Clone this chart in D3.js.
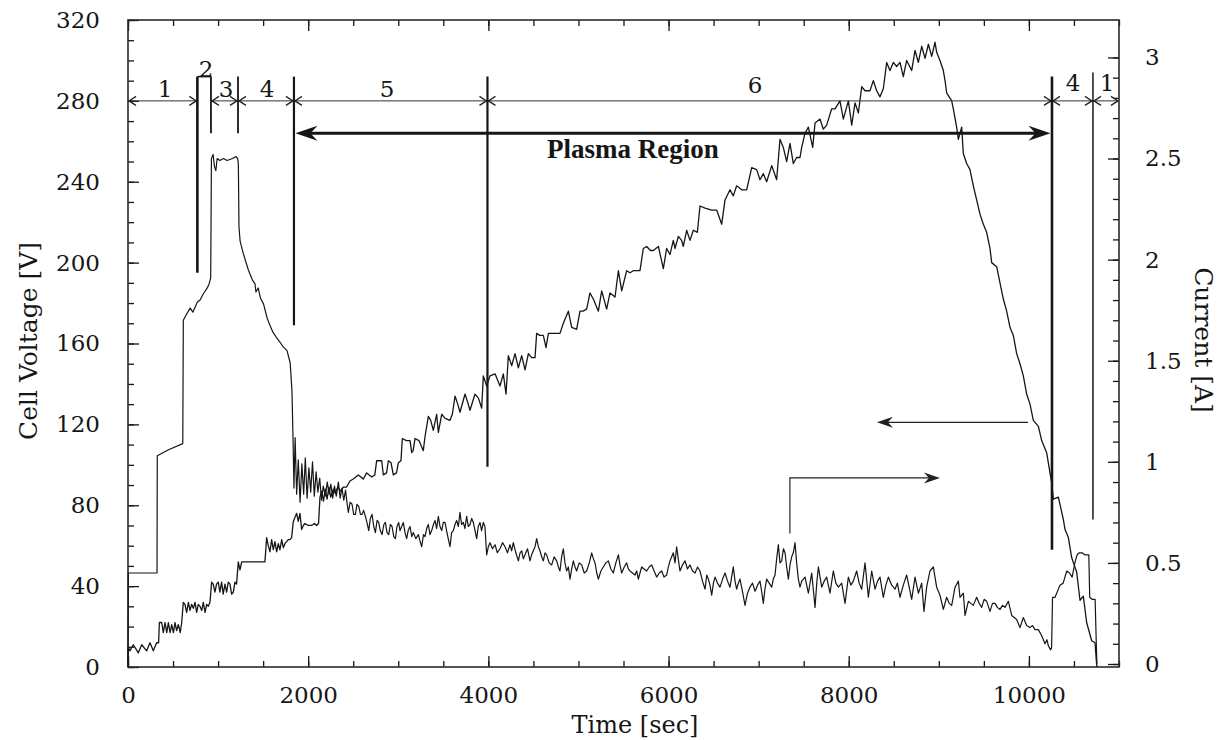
<!DOCTYPE html>
<html><head><meta charset="utf-8">
<script src="https://cdn.jsdelivr.net/npm/d3@7/dist/d3.min.js"></script>
<style>
body{margin:0;background:#fff;}
</style></head><body>
<svg id="chart" width="1221" height="740"></svg>
<script>
// ---------------- DATA ----------------
// Cell voltage [V] vs time [s]
const voltage = [[0,0],[2,10],[20,8],[59,11],[115,7],[152,11],[207,8],[244,12],[281,8],[318,12],[340,12],[348,22],[374,22],[392,17],[411,22],[430,17],[448,22],[467,17],[485,21],[504,17],[522,22],[540,18],[559,21],[580,17],[596,22],[614,32],[632,31],[651,27],[670,32],[688,28],[706,31],[725,29],[744,32],[762,27],[780,31],[799,30],[818,28],[836,32],[855,27],[873,31],[891,30],[910,32],[928,42],[946,41],[965,37],[983,41],[1002,42],[1020,37],[1039,42],[1057,36],[1076,41],[1095,37],[1113,42],[1132,41],[1150,36],[1169,37],[1187,42],[1205,41],[1224,52],[1243,48],[1262,52],[1280,52],[1400,52],[1520,52],[1539,64],[1557,60],[1576,57],[1594,63],[1613,58],[1631,62],[1650,57],[1668,61],[1687,58],[1706,63],[1724,59],[1742,61],[1761,62],[1779,63],[1797,63],[1816,64],[1835,72],[1853,74],[1872,76],[1890,72],[1909,76],[1927,68],[1946,70],[1964,71],[2000,70],[2038,70],[2070,71],[2094,70],[2115,71],[2131,84],[2150,87],[2170,82],[2190,88],[2210,83],[2230,89],[2250,84],[2279,88],[2300,86],[2330,89],[2360,87],[2390,89],[2427,89],[2464,92],[2500,93],[2557,95],[2612,93],[2649,96],[2705,94],[2740,95],[2760,102],[2790,102],[2816,102],[2834,95],[2870,96],[2890,102],[2920,101],[2945,95],[2980,96],[3001,101],[3030,102],[3045,113],[3090,112],[3131,112],[3149,106],[3165,107],[3186,113],[3230,112],[3278,107],[3297,114],[3334,124],[3360,122],[3389,117],[3426,125],[3445,116],[3482,125],[3520,123],[3574,122],[3600,125],[3630,134],[3660,130],[3685,126],[3741,135],[3770,131],[3796,127],[3852,135],[3890,133],[3926,128],[3944,144],[3981,139],[4018,144],[4074,145],[4129,139],[4166,145],[4196,135],[4222,154],[4259,149],[4296,155],[4333,148],[4370,154],[4407,147],[4444,155],[4480,153],[4518,153],[4536,165],[4570,164],[4610,164],[4640,158],[4666,165],[4730,165],[4795,165],[4832,170],[4888,176],[4925,168],[4980,167],[5017,176],[5050,176],[5091,177],[5128,185],[5165,182],[5221,176],[5258,186],[5313,177],[5350,185],[5406,183],[5443,196],[5480,186],[5535,196],[5572,195],[5609,196],[5683,196],[5720,207],[5757,208],[5800,206],[5831,206],[5887,208],[5942,197],[5979,207],[6016,204],[6053,211],[6072,207],[6109,213],[6145,211],[6164,208],[6201,216],[6238,211],[6275,216],[6320,215],[6349,228],[6405,227],[6479,226],[6534,226],[6590,219],[6627,231],[6682,236],[6719,233],[6756,238],[6812,236],[6867,236],[6923,247],[6978,246],[7015,241],[7052,244],[7089,240],[7145,248],[7200,241],[7237,261],[7274,257],[7311,250],[7348,259],[7385,249],[7422,252],[7459,252],[7478,257],[7515,264],[7552,267],[7600,257],[7626,269],[7681,271],[7718,266],[7755,268],[7810,276],[7848,276],[7903,280],[7940,271],[7996,280],[8033,268],[8070,279],[8107,274],[8144,287],[8181,285],[8236,285],[8273,290],[8310,285],[8347,282],[8384,286],[8421,299],[8458,295],[8495,299],[8532,297],[8569,299],[8606,292],[8643,300],[8699,295],[8736,305],[8773,299],[8810,307],[8847,301],[8884,308],[8921,302],[8958,309],[8976,304],[9013,300],[9050,295],[9069,290],[9087,284],[9143,280],[9161,276],[9198,267],[9217,261],[9254,267],[9272,254],[9309,249],[9346,246],[9383,238],[9420,231],[9457,224],[9494,219],[9531,215],[9568,207],[9587,200],[9642,198],[9679,190],[9716,182],[9753,176],[9790,168],[9827,164],[9864,155],[9901,150],[9938,144],[9975,135],[10012,130],[10049,122],[10105,119],[10142,112],[10197,106],[10234,96],[10253,91],[10271,83],[10327,84],[10382,73],[10401,68],[10438,64],[10475,54],[10530,47],[10567,33],[10604,35],[10641,22],[10697,13],[10734,12],[10752,1],[10760,0]];

// Current [A] vs time [s]
const current = [[0,0],[4,0.45],[322,0.45],[325,1.03],[450,1.06],[608,1.09],[614,1.70],[650,1.73],[690,1.76],[720,1.74],[770,1.79],[800,1.80],[835,1.83],[880,1.86],[900,1.88],[918,1.91],[926,2.50],[945,2.52],[960,2.46],[975,2.44],[990,2.50],[1020,2.49],[1060,2.50],[1100,2.49],[1160,2.50],[1200,2.51],[1218,2.50],[1225,2.47],[1232,2.16],[1245,2.09],[1280,2.03],[1335,1.95],[1380,1.90],[1410,1.88],[1420,1.84],[1445,1.86],[1470,1.81],[1505,1.78],[1545,1.71],[1580,1.67],[1610,1.64],[1655,1.61],[1690,1.59],[1720,1.57],[1765,1.55],[1800,1.49],[1820,1.35],[1832,1.11],[1842,0.87],[1855,1.12],[1872,0.84],[1890,1.01],[1910,0.80],[1930,0.99],[1950,0.84],[1968,1.02],[1988,0.82],[2008,0.97],[2028,0.85],[2048,1.00],[2068,0.83],[2088,0.95],[2108,0.85],[2128,0.92],[2148,0.81],[2168,0.88],[2190,0.83],[2212,0.90],[2232,0.84],[2252,0.89],[2272,0.82],[2292,0.88],[2312,0.83],[2335,0.90],[2355,0.82],[2375,0.87],[2395,0.81],[2415,0.86],[2430,0.80],[2446,0.75],[2465,0.80],[2487,0.79],[2505,0.74],[2524,0.74],[2542,0.79],[2561,0.78],[2580,0.74],[2598,0.74],[2615,0.76],[2635,0.73],[2652,0.70],[2672,0.66],[2690,0.72],[2709,0.74],[2728,0.68],[2746,0.65],[2765,0.71],[2783,0.70],[2800,0.66],[2820,0.64],[2840,0.69],[2857,0.70],[2875,0.65],[2894,0.64],[2912,0.69],[2931,0.68],[2950,0.63],[2968,0.62],[2986,0.68],[3005,0.70],[3019,0.66],[3056,0.70],[3075,0.65],[3093,0.62],[3110,0.66],[3130,0.68],[3150,0.63],[3167,0.65],[3195,0.62],[3223,0.64],[3240,0.61],[3260,0.58],[3280,0.64],[3297,0.63],[3315,0.67],[3334,0.69],[3352,0.64],[3371,0.66],[3390,0.69],[3408,0.71],[3426,0.67],[3445,0.73],[3463,0.68],[3482,0.66],[3500,0.70],[3519,0.70],[3545,0.64],[3574,0.58],[3592,0.65],[3611,0.66],[3630,0.69],[3648,0.71],[3667,0.68],[3685,0.75],[3703,0.69],[3722,0.70],[3740,0.67],[3759,0.73],[3777,0.68],[3796,0.69],[3815,0.72],[3833,0.70],[3852,0.66],[3870,0.62],[3888,0.68],[3907,0.70],[3925,0.66],[3944,0.70],[3962,0.68],[3981,0.54],[4000,0.58],[4018,0.60],[4046,0.57],[4074,0.59],[4100,0.55],[4129,0.57],[4157,0.60],[4185,0.58],[4212,0.55],[4240,0.59],[4258,0.56],[4277,0.60],[4305,0.55],[4333,0.51],[4352,0.55],[4370,0.56],[4388,0.52],[4407,0.54],[4435,0.57],[4462,0.51],[4480,0.54],[4499,0.56],[4518,0.58],[4536,0.62],[4555,0.58],[4573,0.56],[4592,0.53],[4610,0.51],[4629,0.55],[4647,0.54],[4675,0.50],[4703,0.49],[4730,0.53],[4758,0.51],[4777,0.48],[4795,0.46],[4813,0.53],[4832,0.57],[4850,0.50],[4869,0.46],[4888,0.48],[4906,0.42],[4925,0.47],[4943,0.51],[4962,0.48],[4980,0.46],[5008,0.50],[5036,0.49],[5064,0.45],[5091,0.46],[5120,0.50],[5147,0.55],[5166,0.52],[5184,0.50],[5203,0.45],[5221,0.42],[5249,0.46],[5276,0.48],[5304,0.50],[5332,0.51],[5360,0.47],[5387,0.45],[5415,0.50],[5443,0.54],[5461,0.49],[5480,0.45],[5508,0.48],[5535,0.50],[5554,0.47],[5572,0.46],[5600,0.45],[5628,0.44],[5646,0.46],[5665,0.42],[5683,0.45],[5702,0.48],[5730,0.47],[5757,0.46],[5785,0.48],[5813,0.49],[5840,0.46],[5868,0.43],[5896,0.45],[5924,0.46],[5950,0.43],[5979,0.44],[5998,0.48],[6016,0.51],[6035,0.53],[6053,0.55],[6072,0.50],[6090,0.58],[6108,0.52],[6127,0.46],[6155,0.49],[6183,0.51],[6210,0.47],[6238,0.49],[6266,0.46],[6294,0.45],[6322,0.48],[6349,0.46],[6377,0.41],[6405,0.37],[6424,0.44],[6442,0.42],[6460,0.39],[6479,0.34],[6498,0.40],[6516,0.43],[6543,0.40],[6571,0.38],[6600,0.42],[6627,0.45],[6655,0.41],[6682,0.38],[6700,0.43],[6719,0.48],[6738,0.41],[6756,0.37],[6775,0.40],[6793,0.42],[6820,0.36],[6849,0.29],[6876,0.35],[6904,0.38],[6932,0.40],[6960,0.36],[6988,0.39],[7015,0.41],[7033,0.36],[7052,0.30],[7070,0.37],[7089,0.42],[7117,0.40],[7145,0.38],[7163,0.42],[7182,0.44],[7200,0.52],[7219,0.59],[7237,0.50],[7256,0.51],[7275,0.57],[7293,0.55],[7311,0.48],[7330,0.42],[7348,0.49],[7367,0.53],[7385,0.55],[7404,0.60],[7422,0.50],[7441,0.42],[7459,0.38],[7478,0.41],[7515,0.43],[7552,0.35],[7589,0.45],[7626,0.28],[7645,0.40],[7663,0.48],[7700,0.38],[7728,0.41],[7755,0.43],[7792,0.35],[7829,0.46],[7857,0.40],[7885,0.38],[7922,0.40],[7959,0.30],[7996,0.43],[8024,0.39],[8051,0.41],[8088,0.46],[8116,0.40],[8144,0.37],[8181,0.50],[8218,0.33],[8255,0.46],[8292,0.37],[8320,0.41],[8347,0.43],[8384,0.33],[8412,0.39],[8440,0.43],[8477,0.39],[8514,0.37],[8540,0.40],[8569,0.33],[8606,0.39],[8643,0.44],[8671,0.38],[8699,0.32],[8736,0.43],[8773,0.35],[8810,0.40],[8835,0.26],[8865,0.38],[8902,0.46],[8939,0.48],[8976,0.38],[9013,0.34],[9050,0.27],[9087,0.33],[9115,0.30],[9143,0.29],[9180,0.38],[9217,0.41],[9235,0.33],[9272,0.35],[9291,0.24],[9328,0.31],[9355,0.30],[9383,0.29],[9420,0.33],[9448,0.30],[9476,0.28],[9503,0.32],[9531,0.31],[9568,0.26],[9596,0.30],[9624,0.30],[9650,0.28],[9679,0.27],[9707,0.29],[9735,0.28],[9772,0.31],[9809,0.24],[9837,0.23],[9864,0.22],[9901,0.18],[9938,0.23],[9975,0.19],[10012,0.18],[10040,0.19],[10068,0.17],[10105,0.17],[10142,0.14],[10179,0.10],[10200,0.12],[10216,0.09],[10241,0.07],[10252,0.08],[10262,0.33],[10290,0.33],[10345,0.39],[10380,0.40],[10420,0.46],[10450,0.45],[10480,0.43],[10510,0.50],[10535,0.54],[10560,0.55],[10590,0.55],[10620,0.54],[10665,0.54],[10675,0.33],[10700,0.32],[10735,0.32],[10748,0.10],[10755,0]];

// Axis ticks & labels
const xTicks = [0, 2000, 4000, 6000, 8000, 10000];
const vTicks = [0, 40, 80, 120, 160, 200, 240, 280, 320];
const iTicks = [0, 0.5, 1, 1.5, 2, 2.5, 3];
const xTitle = "Time [sec]";
const vTitle = "Cell Voltage [V]";
const iTitle = "Current [A]";

// Region annotations (time in s, levels in V)
const dimSegments = [[0,770],[921,1221],[1221,1842],[1842,3990],[3990,10256],[10256,10711],[10711,11000]];
const dimLevel = 280;
const regionLabels = ["1","2","3","4","5","6","4","1"];
const regionLabelTimes = [411, 866, 1088, 1543, 2875, 6960, 10490, 10867];
const regionLabelLevels = [282, 292, 282, 282, 282, 284, 285, 285];
const boundaryTimes   = [770, 921, 1221, 1842, 3990, 10256, 10711];
const boundaryTops    = [292, 292, 292, 292, 292, 292, 294];
const boundaryBottoms = [195, 264, 264, 169, 99, 58, 73];
const bracketSpan = [770, 921];
const bracketLevel = 292;
const plasmaSpan = [1842, 10256];
const plasmaLevel = 264;
const plasmaLabel = "Plasma Region";
const plasmaLabelPos = [5605, 251.5];
const voltPointer = [[9990, 121], [8313, 121]];
const currPointer = [[7347, 66], [7347, 93.5], [9012, 93.5]];

// ---------------- DRAWING ----------------
const svg = d3.select("#chart");
const INK = "#161616";
const SERIF = '"DejaVu Serif", serif';
const x = d3.scaleLinear([0, 11000], [128, 1119]);
const yV = d3.scaleLinear([0, 320], [667, 20]);
const yI = d3.scaleLinear([0, 3.2], [664, 17]);

const tickFont = 23;
function styleAxis(g, labels) {
  g.select(".domain").remove();
  g.selectAll(".tick line").attr("stroke", INK).attr("stroke-width", 1.3);
  g.selectAll("text").style("font-size", tickFont + "px").style("font-family", SERIF).attr("fill", INK);
  if (!labels) g.selectAll("text").remove();
}

// bottom
svg.append("g").attr("transform", "translate(0,667)")
  .call(d3.axisBottom(x).tickValues(d3.range(0, 11001, 500)).tickSize(-6).tickFormat(""))
  .call(g => styleAxis(g, false));
svg.append("g").attr("transform", "translate(0,667)")
  .call(d3.axisBottom(x).tickValues(xTicks).tickSize(-11).tickPadding(20).tickFormat(d3.format("d")))
  .call(g => styleAxis(g, true));
// top
svg.append("g").attr("transform", "translate(0,20)")
  .call(d3.axisTop(x).tickValues(d3.range(0, 11001, 500)).tickSize(-6).tickFormat(""))
  .call(g => styleAxis(g, false));
svg.append("g").attr("transform", "translate(0,20)")
  .call(d3.axisTop(x).tickValues(xTicks).tickSize(-11).tickFormat(""))
  .call(g => styleAxis(g, false));
// left
svg.append("g").attr("transform", "translate(128,0)")
  .call(d3.axisLeft(yV).tickValues(d3.range(0, 321, 10)).tickSize(-6).tickFormat(""))
  .call(g => styleAxis(g, false));
svg.append("g").attr("transform", "translate(128,0)")
  .call(d3.axisLeft(yV).tickValues(vTicks).tickSize(-11).tickPadding(28).tickFormat(d3.format("d")))
  .call(g => styleAxis(g, true));
// right
svg.append("g").attr("transform", "translate(1119,0)")
  .call(d3.axisRight(yI).tickValues(d3.range(0, 31, 1).map(d => d / 10)).tickSize(-6).tickFormat(""))
  .call(g => styleAxis(g, false));
svg.append("g").attr("transform", "translate(1119,0)")
  .call(d3.axisRight(yI).tickValues(iTicks).tickSize(-11).tickPadding(26).tickFormat(d => String(d)))
  .call(g => styleAxis(g, true));

// frame
svg.append("rect").attr("x", 128).attr("y", 20).attr("width", 1119 - 128).attr("height", 667 - 20)
  .attr("fill", "none").attr("stroke", "#2a2a2a").attr("stroke-width", 1.6);

// titles
function txt(sel, size) { return sel.style("font-family", SERIF).style("font-size", size + "px").attr("fill", INK); }
txt(svg.append("text").attr("x", 635).attr("y", 733).attr("text-anchor", "middle"), 24).text(xTitle);
txt(svg.append("text").attr("transform", "translate(37,341) rotate(-90)").attr("text-anchor", "middle"), 25).text(vTitle);
txt(svg.append("text").attr("transform", "translate(1195,340) rotate(90)").attr("text-anchor", "middle"), 25).text(iTitle);

// data lines
const lineV = d3.line().x(d => x(d[0])).y(d => yV(d[1]));
const lineI = d3.line().x(d => x(d[0])).y(d => yI(d[1]));
svg.append("path").attr("d", lineV(voltage)).attr("fill", "none").attr("stroke", INK)
  .attr("stroke-width", 1.3).attr("stroke-linejoin", "round");
svg.append("path").attr("d", lineI(current)).attr("fill", "none").attr("stroke", INK)
  .attr("stroke-width", 1.2).attr("stroke-linejoin", "round");

// annotation helpers
function barbHead(tx, ty, dir, len, half, notch) {
  return `M${tx},${ty}L${tx - dir * len},${ty - half}L${tx - dir * notch},${ty}L${tx - dir * len},${ty + half}Z`;
}
function chevron(tx, ty, dir) {
  return `M${tx - dir * 7},${ty - 4.5}L${tx},${ty}L${tx - dir * 7},${ty + 4.5}`;
}
const ann = svg.append("g");

// dimension line with small arrowheads
dimSegments.forEach(([a, b]) => {
  const yy = yV(dimLevel);
  ann.append("line").attr("x1", x(a)).attr("x2", x(b)).attr("y1", yy).attr("y2", yy)
    .attr("stroke", "#333").attr("stroke-width", 1);
  ann.append("path").attr("d", chevron(x(a) + 1, yy, -1)).attr("fill", "none").attr("stroke", "#222").attr("stroke-width", 1.3);
  ann.append("path").attr("d", chevron(x(b) - 1, yy, 1)).attr("fill", "none").attr("stroke", "#222").attr("stroke-width", 1.3);
});

// boundary verticals
const boundaryWidths = [2.6, 1.8, 1.8, 2.2, 2.2, 2.6, 1.5];
boundaryTimes.forEach((t, i) => {
  ann.append("line").attr("x1", x(t)).attr("x2", x(t))
    .attr("y1", yV(boundaryTops[i])).attr("y2", yV(boundaryBottoms[i]))
    .attr("stroke", INK).attr("stroke-width", boundaryWidths[i]);
});
// bracket top for region 2
ann.append("line").attr("x1", x(bracketSpan[0])).attr("x2", x(bracketSpan[1]))
  .attr("y1", yV(bracketLevel)).attr("y2", yV(bracketLevel)).attr("stroke", INK).attr("stroke-width", 1.6);

// region labels
regionLabels.forEach((s, i) => {
  txt(ann.append("text").attr("x", x(regionLabelTimes[i])).attr("y", yV(regionLabelLevels[i]))
    .attr("text-anchor", "middle"), 23).text(s);
});

// plasma region arrow
{
  const yy = yV(plasmaLevel), x0 = x(plasmaSpan[0]), x1 = x(plasmaSpan[1]);
  ann.append("line").attr("x1", x0 + 10).attr("x2", x1 - 10).attr("y1", yy).attr("y2", yy)
    .attr("stroke", INK).attr("stroke-width", 3);
  ann.append("path").attr("d", barbHead(x0 + 1.5, yy, -1, 22, 7.5, 15)).attr("fill", INK);
  ann.append("path").attr("d", barbHead(x1 - 1.5, yy, 1, 22, 7.5, 15)).attr("fill", INK);
  ann.append("text").attr("x", x(plasmaLabelPos[0])).attr("y", yV(plasmaLabelPos[1]))
    .attr("text-anchor", "middle")
    .style("font-family", '"Liberation Serif", "Times New Roman", serif')
    .style("font-weight", "bold").style("font-size", "27px").attr("fill", INK).text(plasmaLabel);
}

// pointer arrows
{
  const p = voltPointer.map(d => [x(d[0]), yV(d[1])]);
  ann.append("line").attr("x1", p[0][0]).attr("y1", p[0][1]).attr("x2", p[1][0] + 8).attr("y2", p[1][1])
    .attr("stroke", "#222").attr("stroke-width", 1.2);
  ann.append("path").attr("d", barbHead(p[1][0], p[1][1], -1, 16, 5.5, 11)).attr("fill", "#222");
  const q = currPointer.map(d => [x(d[0]), yV(d[1])]);
  ann.append("path").attr("d", `M${q[0][0]},${q[0][1]}L${q[1][0]},${q[1][1]}L${q[2][0] - 8},${q[2][1]}`)
    .attr("fill", "none").attr("stroke", "#222").attr("stroke-width", 1.2);
  ann.append("path").attr("d", barbHead(q[2][0], q[2][1], 1, 16, 5.5, 11)).attr("fill", "#222");
}
</script>
</body></html>
